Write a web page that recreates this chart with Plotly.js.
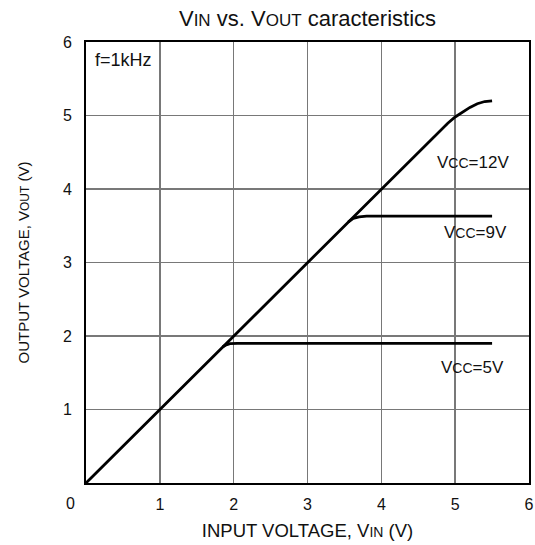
<!DOCTYPE html>
<html>
<head>
<meta charset="utf-8">
<script src="https://cdn.plot.ly/plotly-3.0.1.min.js"></script>
<style>html,body{margin:0;padding:0;background:#fff;}#chart{width:535px;height:545px;}</style>
</head>
<body>
<div id="chart"></div>
<script>
// Data
const vin12 = [0, 4.8, 4.9, 5.0, 5.1, 5.2, 5.3, 5.4, 5.5];
const vout12 = [0, 4.8, 4.895, 4.98, 5.05, 5.11, 5.16, 5.19, 5.2];
const vin9 = [3.55, 3.62, 3.7, 3.8, 4.5, 5.5];
const vout9 = [3.55, 3.6, 3.62, 3.63, 3.63, 3.63];
const vin5 = [1.85, 1.9, 1.95, 2.05, 3.5, 5.5];
const vout5 = [1.85, 1.88, 1.895, 1.9, 1.9, 1.9];
const tickVals = [1, 2, 3, 4, 5, 6];
const tickText = ["1", "2", "3", "4", "5", "6"];
const seriesLabels = ["V<span style='font-size:14px'>CC</span>=12V", "V<span style='font-size:14px'>CC</span>=9V", "V<span style='font-size:14px'>CC</span>=5V"];
const labelPos = [[5.24, 4.36], [5.27, 3.41], [5.23, 1.57]];

const lineStyle = {color: '#000', width: 2.8};
const traces = [
  {x: vin12, y: vout12, mode: 'lines', line: lineStyle, hoverinfo: 'skip'},
  {x: vin9, y: vout9, mode: 'lines', line: lineStyle, hoverinfo: 'skip'},
  {x: vin5, y: vout5, mode: 'lines', line: lineStyle, hoverinfo: 'skip'}
];

const font = {family: 'Liberation Sans, Arial, sans-serif', color: '#111'};
const annotations = seriesLabels.map((t, i) => ({
  x: labelPos[i][0], y: labelPos[i][1], xref: 'x', yref: 'y', text: t,
  showarrow: false, font: Object.assign({size: 17}, font)
}));
annotations.push({x: 0.09, y: 5.75, xref: 'x', yref: 'y', xanchor: 'left', text: 'f=1kHz',
  showarrow: false, font: Object.assign({size: 18}, font)});
annotations.push({x: 0, y: 0, xref: 'paper', yref: 'paper', xanchor: 'center', yanchor: 'middle',
  xshift: -16, yshift: -20, text: '0', showarrow: false, font: Object.assign({size: 16}, font)});

const layout = {
  width: 535, height: 545,
  margin: {l: 86, r: 6, t: 42, b: 62},
  paper_bgcolor: '#fff', plot_bgcolor: '#fff',
  showlegend: false,
  font: font,
  title: {
    text: "V<span style='font-size:17px'>IN</span> vs. V<span style='font-size:17px'>OUT</span> caracteristics",
    font: Object.assign({size: 22}, font),
    x: 0.5, xref: 'paper', xanchor: 'center',
    y: 1 - 18 / 545, yref: 'container', yanchor: 'middle'
  },
  xaxis: {
    range: [0, 6], tickvals: tickVals, ticktext: tickText,
    showgrid: true, gridcolor: '#787878', gridwidth: 1.5,
    zeroline: false, showline: true, linecolor: '#000', linewidth: 2, mirror: true,
    ticks: '', ticklabelstandoff: 6,
    tickfont: Object.assign({size: 16}, font),
    title: {text: "INPUT VOLTAGE, V<span style='font-size:14px'>IN</span> (V)", font: Object.assign({size: 18.5}, font), standoff: 12},
    fixedrange: true
  },
  yaxis: {
    range: [0, 6], tickvals: tickVals, ticktext: tickText,
    showgrid: true, gridcolor: '#787878', gridwidth: 1.5,
    zeroline: false, showline: true, linecolor: '#000', linewidth: 2, mirror: true,
    ticks: '', ticklabelstandoff: 9,
    tickfont: Object.assign({size: 16}, font),
    title: {text: "OUTPUT VOLTAGE, V<span style='font-size:12px'>OUT</span> (V)", font: Object.assign({size: 15}, font), standoff: 30},
    fixedrange: true
  },
  annotations: annotations
};

Plotly.newPlot('chart', traces, layout, {staticPlot: true, displayModeBar: false});
</script>
</body>
</html>
